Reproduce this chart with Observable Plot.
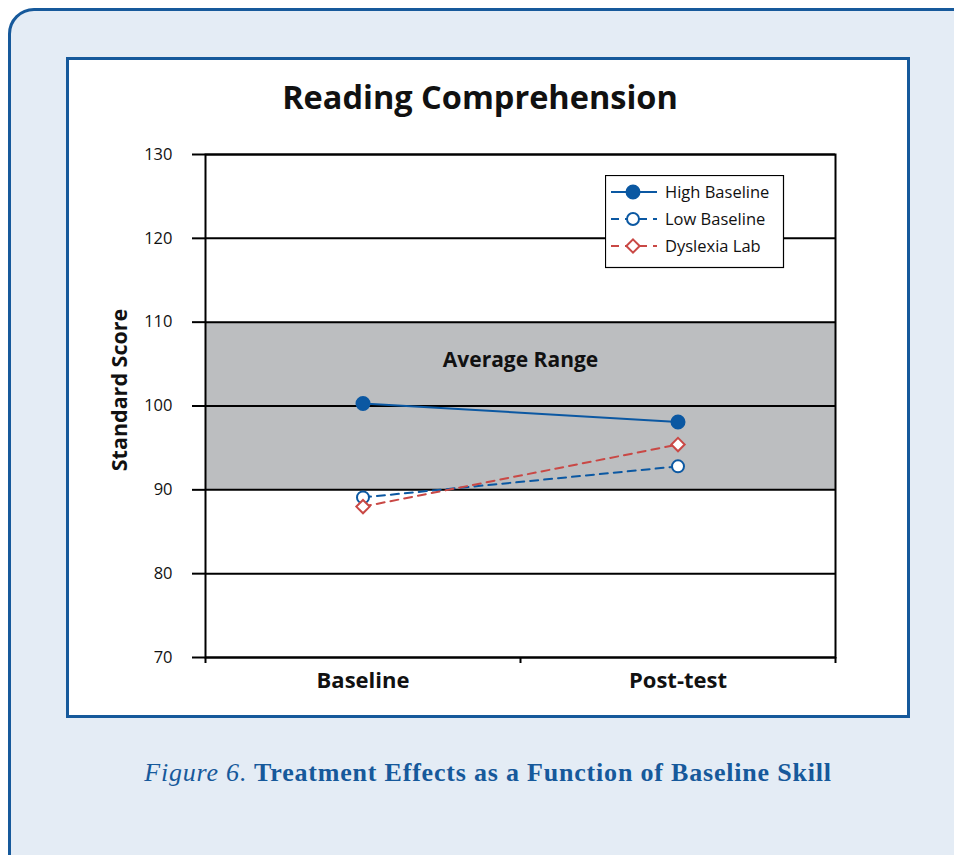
<!DOCTYPE html>
<html>
<head>
<meta charset="utf-8">
<script src="https://cdn.jsdelivr.net/npm/d3@7"></script>
<script src="https://cdn.jsdelivr.net/npm/@observablehq/plot@0.6"></script>
<style>
  html, body { margin: 0; padding: 0; background: #ffffff; }
  #page { position: relative; width: 954px; height: 855px; overflow: hidden; background: #ffffff; }
  #outer { position: absolute; left: 8px; top: 8px; width: 990px; height: 900px; box-sizing: border-box;
           border: 3px solid #16599b; border-radius: 26px; background: #e4ecf5; }
  #inner { position: absolute; left: 66px; top: 57px; width: 844px; height: 661px; box-sizing: border-box;
           border: 3px solid #16599b; background: #ffffff; }
  #chart { position: absolute; left: 0; top: 0; }
  #title { position: absolute; left: 66px; width: 828px; top: 74px; text-align: center;
           font-family: "Open Sans", sans-serif; font-weight: 700; font-size: 32.5px; color: #111; }
  #ylabel { position: absolute; left: 118px; top: 390px; transform: translate(-50%, -50%) rotate(-90deg);
            font-family: "Open Sans", sans-serif; font-weight: 700; font-size: 21.5px; color: #111; white-space: nowrap; }
  #caption { position: absolute; left: 0; width: 976px; top: 758px; text-align: center;
             font-family: "Liberation Serif", "DejaVu Serif", serif; font-weight: 700; font-size: 26px;
             letter-spacing: 0.8px; color: #16599b; }
  #caption i { font-weight: 400; }
  #legend { position: absolute; left: 605px; top: 175px; }
</style>
</head>
<body>
<div id="page">
  <div id="outer"></div>
  <div id="inner"></div>
  <div id="chart"></div>
  <div id="title">Reading Comprehension</div>
  <div id="ylabel">Standard Score</div>
  <div id="legend"></div>
  <div id="caption"><i>Figure 6.</i> Treatment Effects as a Function of Baseline Skill</div>
</div>
<script>
// ---- data ----
const phases = ["Baseline", "Post-test"];
const seriesNames = ["High Baseline", "Low Baseline", "Dyslexia Lab"];
const highBaseline = [100.3, 98.1];
const lowBaseline = [89.1, 92.8];
const dyslexiaLab = [88.0, 95.4];
const yTicks = [70, 80, 90, 100, 110, 120, 130];
const averageRange = [90, 110];
const averageLabel = "Average Range";

// ---- styles ----
const blue = "#0b58a2";
const red = "#c94845";
const styles = {
  "High Baseline": {stroke: blue, dash: null, symbol: "circle", fill: blue, r: 6.5},
  "Low Baseline": {stroke: blue, dash: "8,6", symbol: "circle", fill: "white", r: 6},
  "Dyslexia Lab": {stroke: red, dash: "8,6", symbol: "diamond2", fill: "white", r: 6}
};

const seriesValues = [highBaseline, lowBaseline, dyslexiaLab];
const rows = [];
seriesNames.forEach((s, k) => {
  seriesValues[k].forEach((v, i) => rows.push({series: s, phase: phases[i], i, value: v}));
});

const marks = [
  Plot.rect([{y1: averageRange[0], y2: averageRange[1]}], {y1: "y1", y2: "y2", fill: "#bcbec0"}),
  Plot.ruleY(yTicks, {stroke: "#000", strokeWidth: 2}),
  Plot.frame({stroke: "#000", strokeWidth: 2}),
  Plot.axisY({ticks: yTicks, tickSize: 13, tickPadding: 20, strokeWidth: 2, fontSize: 16.5, fill: "#111", label: null}),
  Plot.axisX({ticks: [0, 1, 2], tickSize: 6, tickFormat: () => "", strokeWidth: 2, label: null}),
  Plot.axisX({ticks: phases.map((p, i) => i + 0.5), tickSize: 0, tickPadding: 15, fontSize: 22, fontWeight: 700,
              fill: "#111", tickFormat: d => phases[Math.round(d - 0.5)], label: null}),
  Plot.text([averageLabel], {text: d => d, y: (averageRange[0] + averageRange[1]) / 2 + 5.5, frameAnchor: "middle",
             fontSize: 21, fontWeight: 700, fill: "#111"})
];

for (const s of seriesNames) {
  const st = styles[s];
  const data = rows.filter(d => d.series === s);
  marks.push(Plot.line(data, {x: d => d.i + 0.5, y: "value", stroke: st.stroke, strokeWidth: 2,
                              strokeDasharray: st.dash || undefined}));
}
for (const s of seriesNames) {
  const st = styles[s];
  const data = rows.filter(d => d.series === s);
  marks.push(Plot.dot(data, {x: d => d.i + 0.5, y: "value", symbol: () => st.symbol, r: st.r,
                             fill: st.fill, stroke: st.stroke, strokeWidth: 2}));
}

const chart = Plot.plot({
  width: 954,
  height: 855,
  marginLeft: 205,
  marginRight: 119,
  marginTop: 154,
  marginBottom: 198,
  style: {background: "transparent", fontFamily: "'Open Sans', sans-serif"},
  x: {type: "linear", domain: [0, 2], axis: null},
  y: {domain: [70, 130], axis: null},
  symbol: {type: "identity"},
  marks
});
document.getElementById("chart").appendChild(chart);

// ---- legend ----
const lw = 178, lh = 92;
const leg = d3.select("#legend").append("svg").attr("width", lw + 2).attr("height", lh + 2);
leg.append("rect").attr("x", 0.5).attr("y", 0.5).attr("width", lw).attr("height", lh)
  .attr("fill", "white").attr("stroke", "#000").attr("stroke-width", 1.2);
seriesNames.forEach((s, k) => {
  const st = styles[s];
  const y = 17 + k * 27;
  leg.append("line").attr("x1", 6).attr("x2", 52).attr("y1", y).attr("y2", y)
    .attr("stroke", st.stroke).attr("stroke-width", 2).attr("stroke-dasharray", st.dash);
  const sym = st.symbol === "circle" ? d3.symbolCircle : d3.symbolDiamond2;
  leg.append("path").attr("d", d3.symbol(sym, Math.PI * st.r * st.r)())
    .attr("transform", `translate(28,${y})`)
    .attr("fill", st.fill).attr("stroke", st.stroke).attr("stroke-width", 2);
  leg.append("text").attr("x", 60).attr("y", y).attr("dy", "0.35em").text(s)
    .attr("font-family", "'Open Sans', sans-serif").attr("font-size", 16.5).attr("fill", "#111");
});
</script>
</body>
</html>
